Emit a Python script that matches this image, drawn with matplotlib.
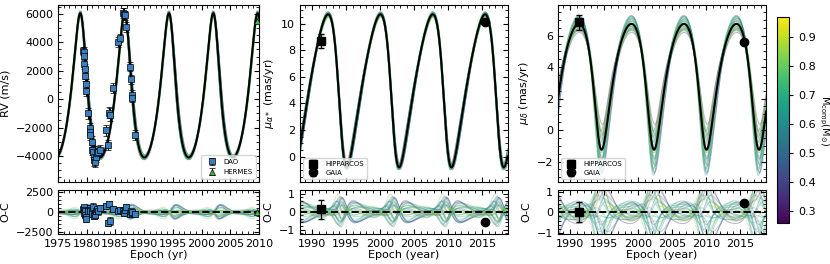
import numpy as np
import matplotlib
matplotlib.use('Agg')
import matplotlib.pyplot as plt
from matplotlib.ticker import AutoMinorLocator, MultipleLocator
from matplotlib.colors import Normalize
from matplotlib.cm import ScalarMappable

# best-fit curves (shape)
period = 7.72
rv_tp, rv_ecc, rv_mid, rv_amp, rv_phase = 1994.57, 0.25, 975.0, 5075.0, 0.35
ra_tp, ra_ecc, ra_mid, ra_amp, ra_phase = 1994.2, 0.25, 4.95, 5.75, 2.0
dec_tp, dec_ecc, dec_mid, dec_amp, dec_phase = 1994.29, 0.25, 2.75, 4.0, 2.7

# posterior draws shown as thin coloured lines
draw_mass = [0.29, 0.33, 0.36, 0.39, 0.41, 0.44, 0.46, 0.48, 0.50, 0.52, 0.54, 0.56, 0.58, 0.60,
             0.62, 0.64, 0.66, 0.68, 0.70, 0.72, 0.74, 0.76, 0.78, 0.80, 0.83, 0.86, 0.89, 0.93]
draw_dtp = [0.10, -0.08, 0.12, -0.05, 0.06, -0.11, 0.03, 0.09, -0.07, 0.00, 0.05, -0.04, 0.08, -0.09,
            0.02, 0.11, -0.03, 0.06, -0.10, 0.04, -0.06, 0.07, -0.02, 0.09, -0.08, 0.03, -0.05, 0.01]
draw_de = [-0.04, 0.03, -0.02, 0.05, -0.03, 0.02, 0.04, -0.05, 0.01, -0.02, 0.03, 0.05, -0.04, 0.00,
           0.02, -0.03, 0.04, -0.01, 0.03, -0.04, 0.01, 0.02, -0.03, 0.04, -0.02, 0.00, 0.03, -0.01]
draw_k_rv = [0.97, 1.02, 1.03, 0.98, 1.02, 0.97, 1.01, 0.98, 1.03, 1.00, 0.98, 1.02, 1.01, 0.99,
             1.03, 0.97, 1.02, 1.00, 1.03, 0.98, 1.01, 0.97, 1.02, 0.99, 1.03, 0.97, 1.00, 0.98]
draw_k_ra = [0.97, 0.98, 1.02, 0.98, 1.03, 0.99, 1.01, 0.97, 1.03, 1.00, 0.98, 1.02, 1.01, 0.99,
             1.03, 0.98, 1.02, 1.00, 1.03, 0.99, 1.02, 0.97, 1.01, 0.99, 1.02, 0.97, 1.00, 0.98]
draw_k_dec = [0.73, 0.80, 1.17, 0.86, 1.24, 0.92, 1.10, 0.83, 1.27, 1.03, 0.88, 1.20, 1.09, 0.95,
              1.25, 0.85, 1.15, 1.00, 1.22, 0.90, 1.12, 0.81, 1.07, 0.93, 1.19, 0.78, 1.03, 0.86]

# DAO radial velocities
dao_epoch = [1979.40, 1979.45, 1979.55, 1979.60, 1979.65, 1979.75, 1979.80, 1979.85, 1980.25,
             1980.55, 1980.60, 1980.65, 1980.85, 1981.00, 1981.10, 1981.20, 1981.30, 1981.45,
             1981.70, 1981.85, 1982.00, 1982.25, 1983.30, 1983.70, 1983.80, 1984.10, 1984.60,
             1985.50, 1985.75, 1986.30, 1986.45, 1986.60, 1986.80, 1987.50, 1987.70, 1987.85,
             1987.90, 1988.40]
dao_rv = [3400, 3300, 3050, 2500, 2150, 1600, 1100, 600, -1000,
          -2000, -2300, -2500, -3000, -3600, -3700, -4100, -4300, -4400,
          -4100, -3800, -3700, -3600, -2200, -3250, -950, -1100, 800,
          4000, 4300, 6100, 6000, 5900, 5100, 2300, 1400, 300,
          100, -2500]
dao_err = [300, 350, 300, 350, 300, 350, 300, 350, 400,
           350, 300, 350, 400, 350, 400, 350, 400, 350,
           300, 350, 400, 350, 400, 350, 400, 450, 350,
           350, 300, 350, 400, 300, 350, 350, 300, 350,
           300, 350]
dao_oc = [400, 600, 300, -100, 100, -300, -600, -900, 200,
          500, 300, 100, 0, -200, 700, -300, -500, -400,
          200, 400, 100, 500, 800, -1300, 1000, -1100, 400,
          200, 300, 100, -100, 300, 650, -200, 100, -100,
          0, -200]
hermes_epoch = [2009.7]
hermes_rv = [5500]
hermes_err = [60]
hermes_oc = [0]

# Hipparcos / Gaia proper motions
hip_epoch, gaia_epoch = 1991.25, 2015.5
hip_ra, hip_ra_err, hip_ra_oc = 8.68, 0.52, 0.14
gaia_ra, gaia_ra_err, gaia_ra_oc = 10.1, 0.05, -0.55
hip_dec, hip_dec_err, hip_dec_oc = 6.85, 0.48, 0.0
gaia_dec, gaia_dec_err, gaia_dec_oc = 5.6, 0.05, 0.43

mass_min, mass_max = 0.26, 0.97
cbar_ticks = [0.3, 0.4, 0.5, 0.6, 0.7, 0.8, 0.9]


def true_anomaly(t, tp, e):
    M = 2 * np.pi * (t - tp) / period
    E = M.copy()
    for _ in range(40):
        E = E - (E - e * np.sin(E) - M) / (1 - e * np.cos(E))
    return 2 * np.arctan2(np.sqrt(1 + e) * np.sin(E / 2), np.sqrt(1 - e) * np.cos(E / 2))


def curve(t, tp, e, mid, amp, phase, k=1.0, kpeak=1.0):
    c = np.cos(true_anomaly(t, tp, e) + phase)
    return mid + amp * c + (kpeak - 1) * amp * (c - 0.5) + (k - 1) * amp * c


def style(ax):
    ax.tick_params(which='both', direction='in', top=True, right=True, labelsize=8)
    ax.tick_params(which='major', length=3.5)
    ax.tick_params(which='minor', length=2)
    ax.xaxis.set_minor_locator(AutoMinorLocator())
    ax.yaxis.set_minor_locator(AutoMinorLocator())


cmap = plt.get_cmap('viridis')
norm = Normalize(mass_min, mass_max)

fig = plt.figure(figsize=(8.3, 2.64), dpi=100)
W, H = 830, 264


def frac(l, t, r, b):
    return [l / W, 1 - b / H, (r - l) / W, (b - t) / H]


ax_rv = fig.add_axes(frac(58, 5, 259, 182))
ax_rvr = fig.add_axes(frac(58, 190, 259, 234))
ax_ra = fig.add_axes(frac(300, 5, 507.5, 182))
ax_rar = fig.add_axes(frac(300, 190, 507.5, 234))
ax_de = fig.add_axes(frac(558, 5, 766, 182))
ax_der = fig.add_axes(frac(558, 190, 766, 234))
cax = fig.add_axes(frac(777, 17, 789, 223))

panels = [
    (ax_rv, ax_rvr, (1975, 2010), (rv_tp, rv_ecc, rv_mid, rv_amp, rv_phase), draw_k_rv, False),
    (ax_ra, ax_rar, (1988.2, 2018.8), (ra_tp, ra_ecc, ra_mid, ra_amp, ra_phase), draw_k_ra, False),
    (ax_de, ax_der, (1988.2, 2018.8), (dec_tp, dec_ecc, dec_mid, dec_amp, dec_phase), draw_k_dec, True),
]

for ax, axr, xlim, pars, kscale, peak_mode in panels:
    tp0, e0, mid, amp, phase = pars
    t = np.linspace(xlim[0] - 0.5, xlim[1] + 0.5, 1500)
    best = curve(t, tp0, e0, mid, amp, phase)
    for i, m in enumerate(draw_mass):
        tp = tp0 + draw_dtp[i]
        e = e0 + draw_de[i]
        if peak_mode:
            y = curve(t, tp, e, mid, amp, phase, kpeak=kscale[i])
        else:
            y = curve(t, tp, e, mid, amp, phase, k=kscale[i])
        col = cmap(norm(m))
        ax.plot(t, y, color=col, lw=0.8, alpha=0.3, zorder=1)
        axr.plot(t, y - best, color=col, lw=0.8, alpha=0.3, zorder=1)
    ax.plot(t, best, color='black', lw=1.5, zorder=3)
    axr.axhline(0, color='black', ls='--', lw=1.4, zorder=3)
    ax.set_xlim(xlim)
    axr.set_xlim(xlim)
    ax.tick_params(labelbottom=False)
    style(ax)
    style(axr)
    axr.xaxis.set_major_locator(MultipleLocator(5))
    ax.xaxis.set_major_locator(MultipleLocator(5))

# RV panel
ax_rv.errorbar(dao_epoch, dao_rv, yerr=dao_err, fmt='s', color='#3a80c0', mec='black', mew=0.5,
               ms=5, ecolor='black', elinewidth=0.8, capsize=2, zorder=5, label='DAO')
ax_rv.errorbar(hermes_epoch, hermes_rv, yerr=hermes_err, fmt='^', color='#4caf50', mec='black',
               mew=0.5, ms=5, ecolor='black', elinewidth=0.8, capsize=2, zorder=5, label='HERMES')
ax_rvr.errorbar(dao_epoch, dao_oc, yerr=dao_err, fmt='s', color='#3a80c0', mec='black', mew=0.5,
                ms=5, ecolor='black', elinewidth=0.8, capsize=2, zorder=5)
ax_rvr.errorbar(hermes_epoch, hermes_oc, yerr=hermes_err, fmt='^', color='#4caf50', mec='black',
                mew=0.5, ms=5, ecolor='black', elinewidth=0.8, capsize=2, zorder=5)
ax_rv.set_ylim(-5830, 6630)
ax_rv.yaxis.set_major_locator(MultipleLocator(2000))
ax_rvr.set_ylim(-2700, 2750)
ax_rvr.yaxis.set_major_locator(MultipleLocator(2500))
ax_rv.set_ylabel('RV (m/s)', fontsize=8)
ax_rvr.set_ylabel('O-C', fontsize=8)
ax_rvr.set_xlabel('Epoch (yr)', fontsize=8, labelpad=1)
ax_rv.legend(loc='lower right', fontsize=5, frameon=True, handletextpad=0.6, borderpad=0.5,
             labelspacing=0.6)

# proper motion panels
pm_sets = [
    (ax_ra, ax_rar, hip_ra, hip_ra_err, hip_ra_oc, gaia_ra, gaia_ra_err, gaia_ra_oc),
    (ax_de, ax_der, hip_dec, hip_dec_err, hip_dec_oc, gaia_dec, gaia_dec_err, gaia_dec_oc),
]
for ax, axr, hv, he, ho, gv, ge, go in pm_sets:
    ax.errorbar([hip_epoch], [hv], yerr=[he], fmt='s', color='black', ms=6, ecolor='black',
                elinewidth=0.9, capsize=2.5, zorder=5, label='HIPPARCOS')
    ax.errorbar([gaia_epoch], [gv], yerr=[ge], fmt='o', color='black', ms=6, ecolor='black',
                elinewidth=0.9, capsize=2.5, zorder=5, label='GAIA')
    axr.errorbar([hip_epoch], [ho], yerr=[he], fmt='s', color='black', ms=6, ecolor='black',
                 elinewidth=0.9, capsize=2.5, zorder=5)
    axr.errorbar([gaia_epoch], [go], yerr=[ge], fmt='o', color='black', ms=6, ecolor='black',
                 elinewidth=0.9, capsize=2.5, zorder=5)
    ax.legend(loc='lower left', fontsize=5, frameon=True, handletextpad=0.8, borderpad=0.4,
              labelspacing=0.4)
    axr.set_ylabel('O-C', fontsize=8)
    axr.set_xlabel('Epoch (year)', fontsize=8, labelpad=1)
    axr.yaxis.set_major_locator(MultipleLocator(1))

ax_ra.set_ylim(-1.9, 11.4)
ax_ra.yaxis.set_major_locator(MultipleLocator(2))
ax_rar.set_ylim(-1.25, 1.22)
ax_ra.set_ylabel(r'$\mu_{\alpha*}$ (mas/yr)', fontsize=8)
ax_de.set_ylim(-3.3, 7.95)
ax_de.yaxis.set_major_locator(MultipleLocator(2))
ax_der.set_ylim(-1.05, 1.08)
ax_de.set_ylabel(r'$\mu_{\delta}$ (mas/yr)', fontsize=8)

sm = ScalarMappable(norm=norm, cmap=cmap)
cb = fig.colorbar(sm, cax=cax, ticks=cbar_ticks)
cb.ax.tick_params(labelsize=8, length=3)
cb.set_label(r'$\mathrm{M_{comp}(M_{\odot})}$', fontsize=7, rotation=270, labelpad=11)

fig.savefig('out.png', dpi=100)
